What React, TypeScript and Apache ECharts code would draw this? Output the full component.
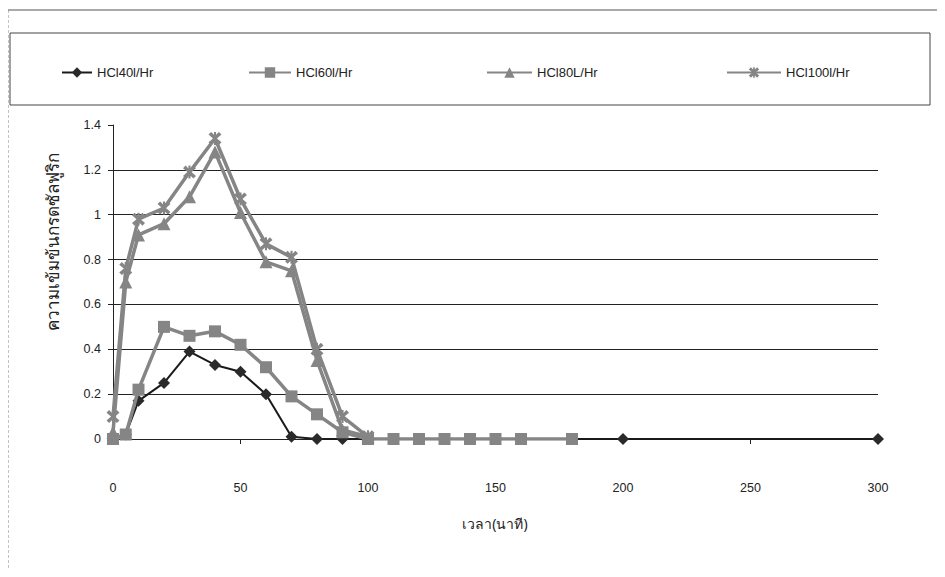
import React, { useEffect, useRef } from "react";
import * as echarts from "echarts";

// Sampling times (minutes)
const timesEarly = [0, 5, 10, 20, 30, 40, 50, 60, 70, 80, 90, 100];
const timesTail40 = [200, 300];
const timesTail60 = [110, 120, 130, 140, 150, 160, 180];

// Sulfuric acid concentration for each HCl feed rate
const hcl40 = [0, 0.02, 0.17, 0.25, 0.39, 0.33, 0.3, 0.2, 0.01, 0.0, 0.0, 0.0];
const hcl40Tail = [0, 0];
const hcl60 = [0, 0.02, 0.22, 0.5, 0.46, 0.48, 0.42, 0.32, 0.19, 0.11, 0.03, 0.0];
const hcl60Tail = [0, 0, 0, 0, 0, 0, 0];
const hcl80 = [0.03, 0.7, 0.91, 0.96, 1.08, 1.28, 1.01, 0.79, 0.75, 0.35, 0.04, 0.01];
const hcl100 = [0.1, 0.76, 0.98, 1.03, 1.19, 1.34, 1.07, 0.87, 0.81, 0.4, 0.1, 0.01];

const seriesNames = ["HCl40l/Hr", "HCl60l/Hr", "HCl80L/Hr", "HCl100l/Hr"];
const yTicks = [0, 0.2, 0.4, 0.6, 0.8, 1, 1.2, 1.4];
const xTicks = [0, 50, 100, 150, 200, 250, 300];

const pairs = (xs: number[], ys: number[]) => xs.map((x, i) => [x, ys[i]]);

const starPath =
  "path://M0,2 L2,0 L4.2,2.2 L4.2,0 L5.8,0 L5.8,2.2 L8,0 L10,2 L6.5,5 L10,8 L8,10 L5.8,7.8 L5.8,10 L4.2,10 L4.2,7.8 L2,10 L0,8 L3.5,5 Z";

const FONT = "'Liberation Sans', Arial, sans-serif";
const THAI_FONT = "'Noto Sans', 'DejaVu Sans', sans-serif";

export default function App() {
  const ref = useRef<HTMLDivElement>(null);

  useEffect(() => {
    if (!ref.current) return;
    const chart = echarts.init(ref.current, undefined, { renderer: "svg" });
    const grey = "#858585";
    const legendBase = {
      top: 61,
      itemHeight: 13,
      textStyle: { fontFamily: FONT, fontSize: 13, color: "#222" },
      itemGap: 4,
    };
    chart.setOption({
      animation: false,
      backgroundColor: "#ffffff",
      legend: [
        { ...legendBase, left: 56, itemWidth: 30, data: [seriesNames[0]] },
        { ...legendBase, left: 243, itemWidth: 42, data: [seriesNames[1]] },
        { ...legendBase, left: 481, itemWidth: 45, data: [seriesNames[2]] },
        { ...legendBase, left: 721, itemWidth: 54, data: [seriesNames[3]] },
      ],
      grid: { left: 113, right: 67, top: 125, bottom: 138, containLabel: false },
      xAxis: {
        type: "value",
        min: 0,
        max: 300,
        interval: 50,
        axisLine: { show: true, onZero: false, lineStyle: { color: "#222", width: 1 } },
        axisTick: { show: true, length: 5, lineStyle: { color: "#222" } },
        axisLabel: {
          margin: 42,
          fontFamily: FONT,
          fontSize: 12.5,
          color: "#222",
          formatter: (v: number) => (xTicks.includes(v) ? String(v) : ""),
        },
        splitLine: { show: false },
      },
      yAxis: {
        type: "value",
        min: 0,
        max: 1.4,
        interval: 0.2,
        axisLine: { show: true, lineStyle: { color: "#222", width: 1 } },
        axisTick: { show: true, length: 5, lineStyle: { color: "#222" } },
        axisLabel: {
          margin: 12,
          fontFamily: FONT,
          fontSize: 12.5,
          color: "#222",
          formatter: (v: number) => {
            const t = yTicks.find((k) => Math.abs(k - v) < 1e-6);
            return t === undefined ? "" : String(Math.round(t * 10) / 10);
          },
        },
        splitLine: {
          show: true,
          lineStyle: {
            color: ["#222", "#222", "#222", "#222", "#222", "#222", "#222", "transparent"],
            width: 1,
          },
        },
      },
      graphic: [
        // outer chart frame
        {
          type: "line",
          shape: { x1: 8, y1: 10, x2: 945, y2: 10 },
          style: { stroke: "#555", lineWidth: 1 },
          silent: true,
          z: -10,
        },
        {
          type: "line",
          shape: { x1: 8, y1: 10, x2: 8, y2: 577 },
          style: { stroke: "#888", lineWidth: 1, lineDash: [3, 2] },
          silent: true,
          z: -10,
        },
        // legend box
        {
          type: "rect",
          shape: { x: 10, y: 33, width: 920, height: 72 },
          style: { fill: "none", stroke: "#444", lineWidth: 1 },
          silent: true,
          z: -5,
        },
        // axis titles
        {
          type: "text",
          x: 52,
          y: 242,
          rotation: Math.PI / 2,
          style: {
            text: "ความเข้มข้นกรดซัลฟูริก",
            fontFamily: THAI_FONT,
            fontSize: 17,
            fill: "#222",
            align: "center",
            verticalAlign: "middle",
          },
        },
        {
          type: "text",
          x: 495,
          y: 523,
          style: {
            text: "เวลา(นาที)",
            fontFamily: THAI_FONT,
            fontSize: 14,
            fill: "#222",
            align: "center",
            verticalAlign: "middle",
          },
        },
      ],
      series: [
        {
          name: seriesNames[0],
          type: "line",
          data: pairs(timesEarly, hcl40).concat(pairs(timesTail40, hcl40Tail)),
          symbol: "diamond",
          symbolSize: 12,
          itemStyle: { color: "#2a2a2a" },
          lineStyle: { color: "#1a1a1a", width: 2 },
          z: 2,
        },
        {
          name: seriesNames[1],
          type: "line",
          data: pairs(timesEarly, hcl60).concat(pairs(timesTail60, hcl60Tail)),
          symbol: "rect",
          symbolSize: 12,
          itemStyle: { color: grey },
          lineStyle: { color: grey, width: 3.5 },
          z: 3,
        },
        {
          name: seriesNames[2],
          type: "line",
          data: pairs(timesEarly, hcl80),
          symbol: "triangle",
          symbolSize: 13,
          itemStyle: { color: grey },
          lineStyle: { color: grey, width: 3.5 },
          z: 4,
        },
        {
          name: seriesNames[3],
          type: "line",
          data: pairs(timesEarly, hcl100),
          symbol: starPath,
          symbolSize: 13,
          itemStyle: { color: grey },
          lineStyle: { color: grey, width: 3.5 },
          z: 5,
        },
      ],
    });
    return () => chart.dispose();
  }, []);

  return <div ref={ref} style={{ width: 945, height: 577, margin: -8 }} />;
}
